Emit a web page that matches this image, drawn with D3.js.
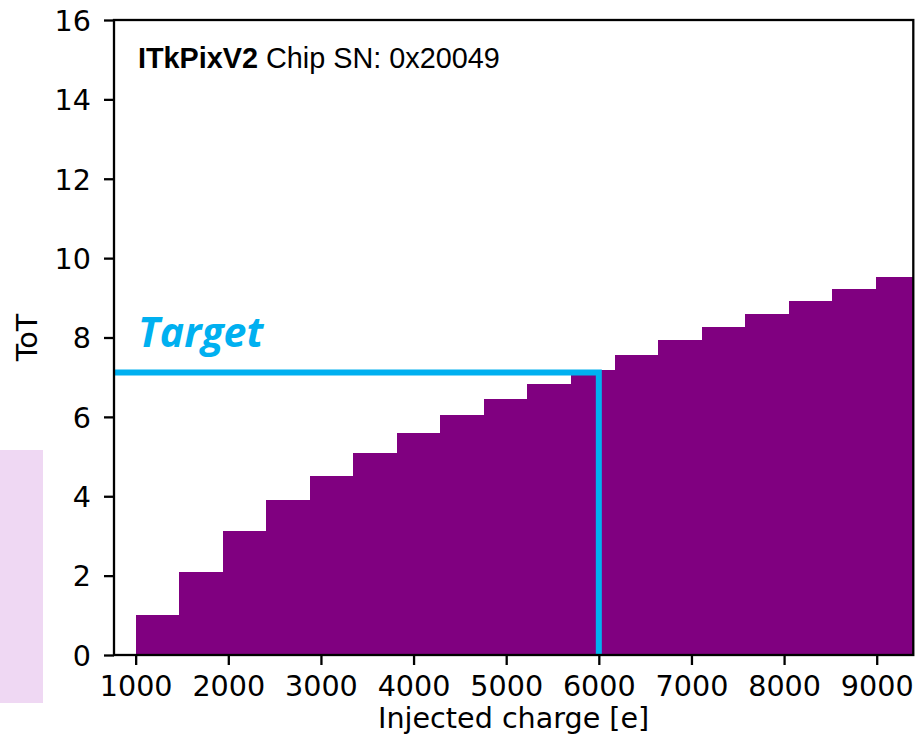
<!DOCTYPE html>
<html>
<head>
<meta charset="utf-8">
<script src="https://cdn.jsdelivr.net/npm/d3@7"></script>
<style>
  html, body { margin: 0; padding: 0; background: #fff; }
  svg { display: block; }
</style>
</head>
<body>
<div id="chart"></div>
<script>
// ToT response per injected-charge bin (bin edges in electrons)
const binEdges = [1000, 1470, 1940, 2410, 2880, 3350, 3820, 4290, 4760, 5230,
                  5700, 6170, 6640, 7110, 7580, 8050, 8520, 8990, 9460];
const totValues = [1.0, 2.08, 3.12, 3.90, 4.52, 5.09, 5.59, 6.05, 6.44, 6.82,
                   7.19, 7.55, 7.93, 8.26, 8.60, 8.91, 9.22, 9.53];
const xTicks = [1000, 2000, 3000, 4000, 5000, 6000, 7000, 8000, 9000];
const yTicks = [0, 2, 4, 6, 8, 10, 12, 14, 16];
const xDomain = [766, 9395];
const yDomain = [0, 16];

// Tuning target
const targetCharge = 6000;
const targetToT = 7.12;
const targetLabel = "Target";

const W = 917, H = 745;
const plot = { left: 114, right: 913.3, top: 20, bottom: 655 };

const svg = d3.select("#chart").append("svg")
  .attr("width", W).attr("height", H);

// Side swatch on the left margin
svg.append("rect")
  .attr("x", 0).attr("y", 450).attr("width", 43).attr("height", 253)
  .attr("fill", "#efd8f3");

const x = d3.scaleLinear().domain(xDomain).range([plot.left, plot.right]);
const y = d3.scaleLinear().domain(yDomain).range([plot.bottom, plot.top]);

svg.append("defs").append("clipPath").attr("id", "plot-clip")
  .append("rect")
  .attr("x", plot.left).attr("y", plot.top)
  .attr("width", plot.right - plot.left).attr("height", plot.bottom - plot.top);

const body = svg.append("g").attr("clip-path", "url(#plot-clip)");

// Histogram bars
body.selectAll("rect.bar")
  .data(totValues)
  .join("rect")
  .attr("class", "bar")
  .attr("x", (d, i) => x(binEdges[i]))
  .attr("width", (d, i) => x(binEdges[i + 1]) - x(binEdges[i]))
  .attr("y", d => y(d))
  .attr("height", d => y(0) - y(d))
  .attr("fill", "#800080")
  .attr("shape-rendering", "crispEdges");

// Target marker: horizontal at target ToT, vertical at target charge
const blue = "#00b0f0";
body.append("path")
  .attr("d", d3.line()([
    [x(xDomain[0]), y(targetToT)],
    [x(targetCharge), y(targetToT)],
    [x(targetCharge), y(0)]
  ]))
  .attr("fill", "none")
  .attr("stroke", blue)
  .attr("stroke-width", 6)
  .attr("stroke-linejoin", "miter");

svg.append("text")
  .attr("x", 138).attr("y", 346.5)
  .attr("fill", blue)
  .attr("font-family", "'Open Sans', Lato, sans-serif")
  .attr("font-weight", 700)
  .attr("font-style", "italic")
  .attr("font-size", 41)
  .text(targetLabel);

// Axes
const tickFont = "DejaVu Sans";
const fs = 28.6;

const xAxis = svg.append("g")
  .attr("transform", `translate(0,${plot.bottom})`)
  .call(d3.axisBottom(x).tickValues(xTicks).tickFormat(d3.format("d"))
    .tickSize(10).tickSizeOuter(0).tickPadding(9));
const yAxis = svg.append("g")
  .attr("transform", `translate(${plot.left},0)`)
  .call(d3.axisLeft(y).tickValues(yTicks).tickFormat(d3.format("d"))
    .tickSize(10).tickSizeOuter(0).tickPadding(13));

[xAxis, yAxis].forEach(g => {
  g.select(".domain").remove();
  g.selectAll(".tick line").attr("stroke", "#000").attr("stroke-width", 2.3);
  g.selectAll(".tick text")
    .attr("font-family", tickFont)
    .attr("font-size", fs)
    .attr("fill", "#000");
});
yAxis.selectAll(".tick text").attr("dy", "0.36em");
xAxis.selectAll(".tick text").attr("dy", "0.76em");

// Frame
svg.append("rect")
  .attr("x", plot.left).attr("y", plot.top)
  .attr("width", plot.right - plot.left).attr("height", plot.bottom - plot.top)
  .attr("fill", "none").attr("stroke", "#000").attr("stroke-width", 2.3);

// Axis titles
svg.append("text")
  .attr("x", (plot.left + plot.right) / 2).attr("y", 728)
  .attr("text-anchor", "middle")
  .attr("font-family", tickFont).attr("font-size", fs)
  .text("Injected charge [e]");

svg.append("text")
  .attr("transform", `translate(37,${(plot.top + plot.bottom) / 2}) rotate(-90)`)
  .attr("text-anchor", "middle")
  .attr("font-family", tickFont).attr("font-size", fs)
  .text("ToT");

// Chip annotation
const title = svg.append("text")
  .attr("x", 138).attr("y", 68)
  .attr("font-family", "'Liberation Sans', Arial, Helvetica, sans-serif")
  .attr("font-size", 28.8)
  .attr("fill", "#000");
title.append("tspan").attr("font-weight", 700).text("ITkPixV2");
title.append("tspan").text(" Chip SN: 0x20049");
</script>
</body>
</html>
